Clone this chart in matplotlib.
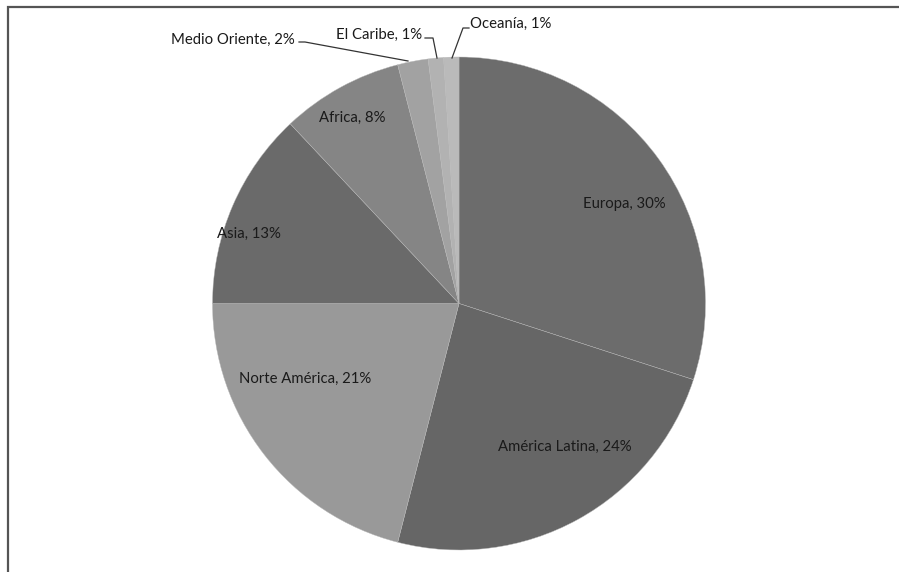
import matplotlib
matplotlib.use("Agg")
import matplotlib.pyplot as plt
from matplotlib.patches import Rectangle
import numpy as np

categories = ["Europa", "América Latina", "Norte América", "Asia", "Africa",
              "Medio Oriente", "El Caribe", "Oceanía"]
values = [30, 24, 21, 13, 8, 2, 1, 1]
colors = ["#6c6c6c", "#666666", "#999999", "#6a6a6a", "#858585",
          "#a2a2a2", "#b2b2b2", "#bababa"]

# label positions (axes data units, radius = 1)
label_pos = [(0.672, 0.405), (0.429, -0.583), (-0.623, -0.304), (-0.854, 0.283),
             (-0.433, 0.753), (-0.918, 1.070), (-0.326, 1.090), (0.210, 1.135)]
# leader lines for outside labels: (index, points in pixel coords)
leader_px = {5: [(299, 42), (305, 42), (408, 61)],
             6: [(425, 38), (433, 38), (437, 58)],
             7: [(469, 28), (463, 28), (452, 58)]}

W, H = 899, 572
fig = plt.figure(figsize=(W / 100, H / 100), dpi=100)
cx, cy, r = 459, 303.5, 246.5
ax = fig.add_axes([(cx - r) / W, (H - cy - r) / H, 2 * r / W, 2 * r / H])
ax.pie(values, colors=colors, startangle=90, counterclock=False, radius=1,
       wedgeprops=dict(edgecolor="#b8b8b8", linewidth=0.3))
ax.set_xlim(-1, 1)
ax.set_ylim(-1, 1)
ax.set_aspect("auto")
ax.axis("off")

def px2data(p):
    return ((p[0] - cx) / r, (cy - p[1]) / r)

for i, (cat, v) in enumerate(zip(categories, values)):
    x, y = label_pos[i]
    ax.text(x, y, f"{cat}, {v}%", ha="center", va="center", fontsize=10.7,
            family=["Lato", "DejaVu Sans"], color="#1a1a1a", clip_on=False)
for i, pts in leader_px.items():
    d = [px2data(p) for p in pts]
    ax.plot([q[0] for q in d], [q[1] for q in d], color="#333333", lw=0.9,
            clip_on=False)

fig.patches.append(Rectangle((8, -20), W + 20, H - 7 + 20, transform=None,
                             fill=False, edgecolor="#555555", linewidth=1.6))
fig.savefig("out.png", dpi=100)
